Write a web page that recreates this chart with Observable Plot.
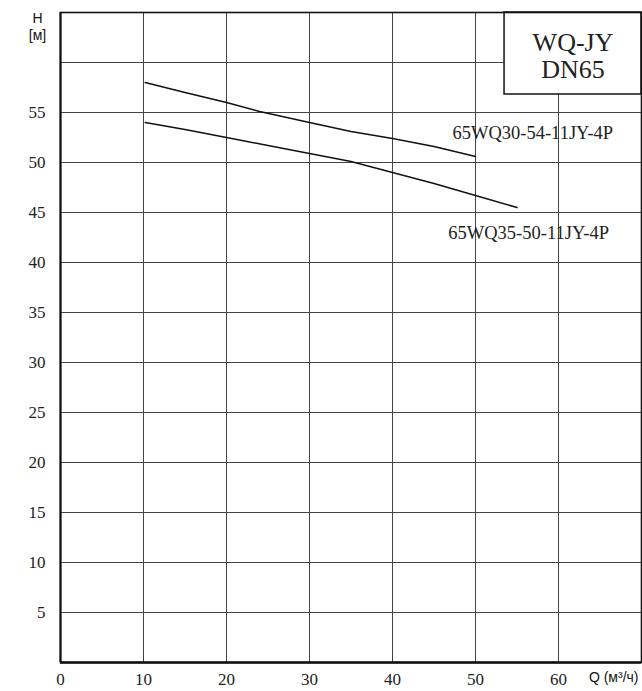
<!DOCTYPE html>
<html><head><meta charset="utf-8">
<script src="https://cdn.jsdelivr.net/npm/d3@7"></script>
<script src="https://cdn.jsdelivr.net/npm/@observablehq/plot@0.6"></script>
<style>
body{margin:0;background:#fff}
#chart svg{display:block;background:#fff}
</style>
</head><body><div id="chart"></div>
<script>
// Axis ticks
const qTicks = [0, 10, 20, 30, 40, 50, 60];
const hTicks = [5, 10, 15, 20, 25, 30, 35, 40, 45, 50, 55];
const qGrid = [10, 20, 30, 40, 50, 60];
const hGrid = [5, 10, 15, 20, 25, 30, 35, 40, 45, 50, 55, 60];

// Curve 65WQ30-54-11JY-4P
const curve1Name = "65WQ30-54-11JY-4P";
const curve1Q = [10.2, 15, 20, 24, 30, 35, 40, 45, 50];
const curve1H = [58.0, 57.0, 56.0, 55.1, 54.0, 53.1, 52.4, 51.6, 50.6];

// Curve 65WQ35-50-11JY-4P
const curve2Name = "65WQ35-50-11JY-4P";
const curve2Q = [10.2, 15, 20, 25, 30, 35, 40, 45, 50, 55];
const curve2H = [54.0, 53.3, 52.5, 51.7, 50.9, 50.1, 49.0, 47.9, 46.7, 45.5];

// Label positions (Q, H)
const labelQ = [56.9, 56.4];
const labelH = [52.95, 42.9];

// Title box
const boxLines = "WQ-JY\nDN65";
const boxQ = [53.5, 70];
const boxH = [56.8, 65];
const boxTextH = 60.7;

const xLabel = "Q (м³/ч)";
const yLabel = "H\n[м]";

const c1 = curve1Q.map((q, i) => ({q, h: curve1H[i]}));
const c2 = curve2Q.map((q, i) => ({q, h: curve2H[i]}));
const labels = [curve1Name, curve2Name].map((t, i) => ({t, q: labelQ[i], h: labelH[i]}));

const serif = "'Liberation Serif', 'Times New Roman', serif";
const sans = "'Liberation Sans', Arial, sans-serif";

const chart = Plot.plot({
  width: 642,
  height: 691,
  marginLeft: 60,
  marginRight: 1,
  marginTop: 12,
  marginBottom: 29,
  x: {domain: [0, 70], label: null},
  y: {domain: [0, 65], label: null},
  marks: [
    Plot.gridX(qGrid, {stroke: "#444", strokeOpacity: 1, strokeWidth: 1}),
    Plot.gridY(hGrid, {stroke: "#444", strokeOpacity: 1, strokeWidth: 1}),
    Plot.rect([{}], {x1: boxQ[0], x2: boxQ[1], y1: boxH[0], y2: boxH[1], fill: "#fff", stroke: "#222", strokeWidth: 1.6}),
    Plot.text([boxLines], {x: (boxQ[0] + boxQ[1]) / 2, y: boxTextH, text: d => d, fontSize: 26, lineHeight: 1.05, fill: "#222", fontFamily: serif}),
    Plot.frame({stroke: "#111", strokeWidth: 1.6}),
    Plot.ruleX([0], {stroke: "#111", strokeWidth: 2}),
    Plot.ruleY([0], {stroke: "#111", strokeWidth: 2.5}),
    Plot.line(c1, {x: "q", y: "h", stroke: "#111", strokeWidth: 1.5}),
    Plot.line(c2, {x: "q", y: "h", stroke: "#111", strokeWidth: 1.5}),
    Plot.text(labels, {x: "q", y: "h", text: "t", fontSize: 18.5, fill: "#222", fontFamily: serif}),
    Plot.axisX(qTicks, {tickSize: 0, tickPadding: 10, fontSize: 17, fill: "#222", label: null}),
    Plot.axisY(hTicks, {tickSize: 0, tickPadding: 15, fontSize: 17, fill: "#222", label: null}),
    Plot.text([xLabel], {frameAnchor: "bottom-right", text: d => d, textAnchor: "end", dx: -3, dy: 19, fontFamily: sans, fontSize: 14, fill: "#111"}),
    Plot.text([yLabel], {frameAnchor: "top-left", text: d => d, textAnchor: "middle", lineAnchor: "top", dx: -23, dy: -2, lineHeight: 1.25, fontFamily: sans, fontSize: 14, fill: "#111"})
  ]
});
// Make the numeric tick labels serif, as in the reference
d3.select(chart).selectAll("text").each(function () {
  if (/^\d+$/.test(this.textContent.trim())) {
    this.setAttribute("font-family", serif);
    this.style.fontFamily = serif;
    this.style.fontSize = "17px";
  }
});
document.getElementById("chart").append(chart);
</script>
</body></html>
